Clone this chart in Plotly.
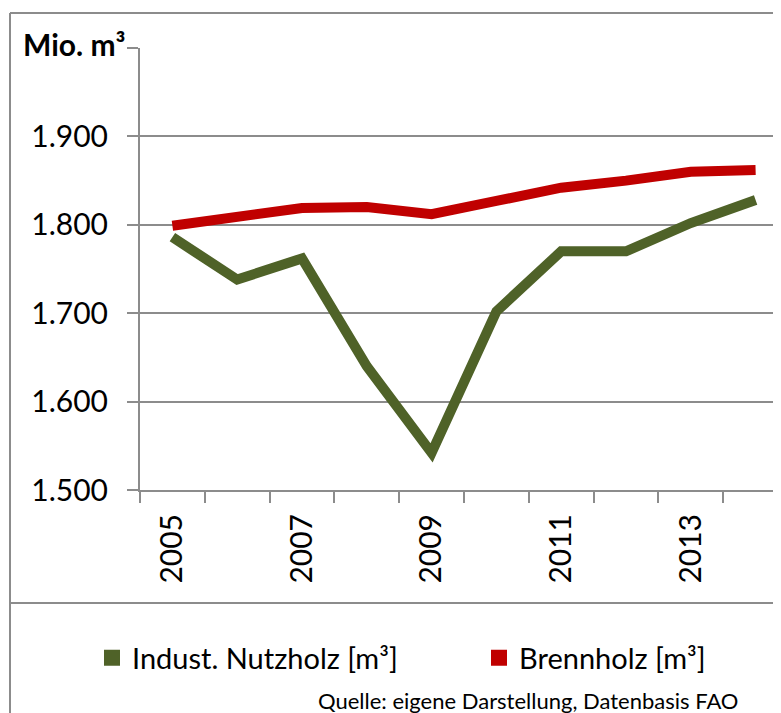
import plotly.graph_objects as go

years = [2005, 2006, 2007, 2008, 2009, 2010, 2011, 2012, 2013, 2014]
industrial = [1786, 1738, 1762, 1640, 1542, 1702, 1770, 1770, 1802, 1828]
fuelwood = [1799, 1809, 1819, 1820, 1812, 1827, 1842, 1850, 1860, 1862]
series_names = ["Indust. Nutzholz [m³]", "Brennholz [m³]"]
series_colors = ["#4F6228", "#C00000"]
legend_ids = ["legend", "legend2"]
y_ticks = [1500, 1600, 1700, 1800, 1900, 2000]
y_ticktext = ["1.500", "1.600", "1.700", "1.800", "1.900", ""]
label_years = years[::2]

FONT = "Lato"
OFF = 8  # page body margin
W, H = 781 - OFF, 713 - OFF
L, T, B = 140 - OFF, 48 - OFF, 490 - OFF
plot_w = W - L
plot_h = B - T
cat_px = 64.8

fig = go.Figure()
for vals, name, col, lg in zip([industrial, fuelwood], series_names,
                               series_colors, legend_ids):
    fig.add_trace(go.Scatter(x=years, y=vals, mode="lines", name=name,
                             line=dict(color=col, width=10), showlegend=False,
                             hoverinfo="skip"))
    fig.add_trace(go.Scatter(x=[None], y=[None], mode="markers", name=name,
                             marker=dict(symbol="square", size=17, color=col),
                             showlegend=True, legend=lg))

x0 = years[0] - 0.5
x1 = x0 + plot_w / cat_px

def px2x(px):
    return (px - OFF - L) / plot_w

def py2y(py):
    return (B - (py - OFF)) / plot_h

grey = "#8C8C8C"
legend_common = dict(orientation="h", xanchor="left", yanchor="middle",
                     y=py2y(658), font=dict(size=29, family=FONT),
                     itemwidth=30, bgcolor="rgba(0,0,0,0)")
fig.update_layout(
    width=W, height=H,
    margin=dict(l=L, r=0, t=T, b=H - B, pad=0),
    paper_bgcolor="white", plot_bgcolor="white",
    font=dict(family=FONT, color="black"),
    xaxis=dict(range=[x0, x1], tickvals=label_years,
               ticktext=[str(y) for y in label_years], tickangle=-90,
               ticks="", showgrid=False, zeroline=False,
               showline=True, linecolor=grey, linewidth=2,
               tickfont=dict(size=30, family=FONT), ticklabelstandoff=10,
               minor=dict(ticks="outside", tick0=x0, dtick=1, ticklen=11,
                          tickcolor=grey, tickwidth=2, showgrid=False)),
    yaxis=dict(range=[1500, 2000], tickvals=y_ticks, ticktext=y_ticktext,
               ticks="outside", ticklen=11, tickcolor=grey, tickwidth=2,
               showgrid=True, gridcolor=grey, gridwidth=2, zeroline=False,
               showline=True, linecolor=grey, linewidth=2,
               tickfont=dict(size=30, family=FONT), ticklabelstandoff=13),
    legend=dict(x=px2x(92), **legend_common),
    legend2=dict(x=px2x(479), **legend_common),
    showlegend=True,
)

fig.add_annotation(text="<b>Mio. m³</b>", xref="paper", yref="paper",
                   x=px2x(21), y=py2y(44), xanchor="left", yanchor="middle",
                   showarrow=False, font=dict(size=30, family=FONT))
fig.add_annotation(text="Quelle: eigene Darstellung, Datenbasis FAO",
                   xref="paper", yref="paper", x=px2x(316), y=py2y(700),
                   xanchor="left", yanchor="middle", showarrow=False,
                   font=dict(size=22, family=FONT))

frame = dict(color="#8C8C8C", width=2)
fig.add_shape(type="line", xref="paper", yref="paper",
              x0=px2x(10), x1=px2x(800), y0=py2y(13), y1=py2y(13), line=frame)
fig.add_shape(type="line", xref="paper", yref="paper",
              x0=px2x(10), x1=px2x(10), y0=py2y(13), y1=py2y(720), line=frame)
fig.add_shape(type="line", xref="paper", yref="paper",
              x0=px2x(10), x1=px2x(800), y0=py2y(603), y1=py2y(603), line=frame)

fig.write_html("out.html")
